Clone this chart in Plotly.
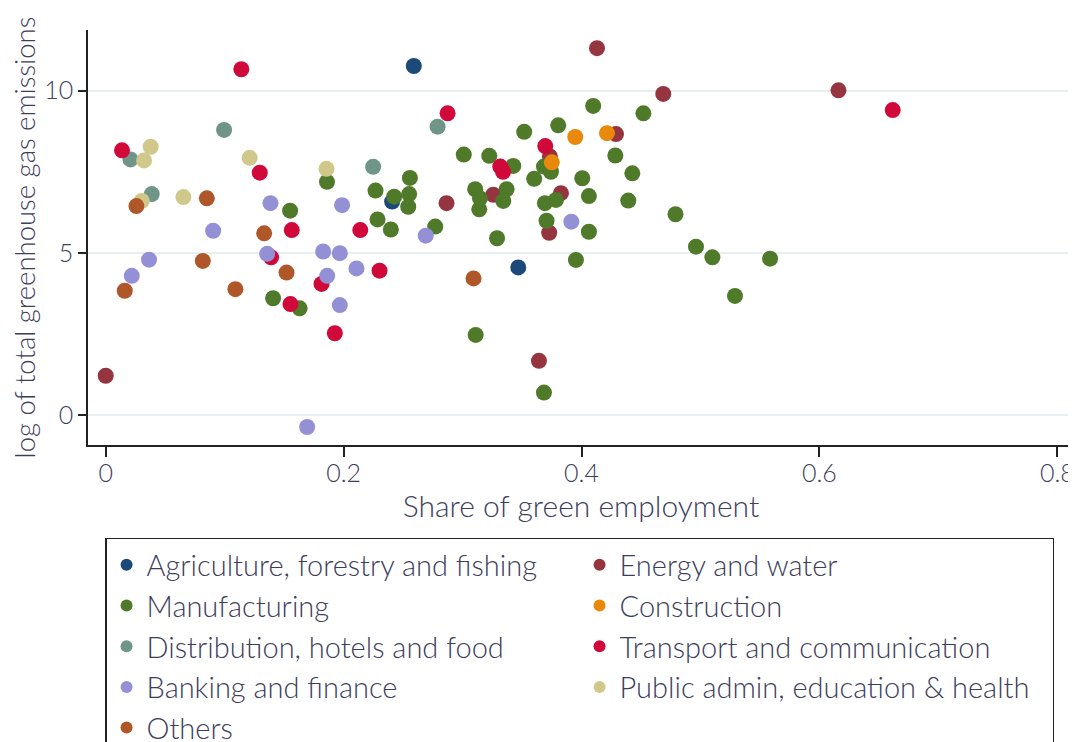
import plotly.graph_objects as go

# sectors in legend / drawing order
sectors = [
    "Agriculture, forestry and fishing",
    "Energy and water",
    "Manufacturing",
    "Construction",
    "Distribution, hotels and food",
    "Transport and communication",
    "Banking and finance",
    "Public admin, education & health",
    "Others",
]
colors = ["#1b4a78", "#943540", "#4e7a2a", "#e8890c", "#6f9488",
          "#d0093a", "#9490d6", "#d0c88a", "#b0572a"]

agri_x = [0.259, 0.2408, 0.3468]
agri_y = [10.76, 6.58, 4.55]

energy_x = [0.0, 0.413, 0.429, 0.2865, 0.3258, 0.3827, 0.3728, 0.3734, 0.4687, 0.616, 0.3642]
energy_y = [1.21, 11.31, 8.66, 6.53, 6.79, 6.84, 5.62, 7.97, 9.90, 10.01, 1.67]

manuf_x = [0.186, 0.155, 0.1407, 0.163, 0.2397, 0.4098, 0.3518, 0.3804, 0.301, 0.3224,
           0.3426, 0.2557, 0.2268, 0.2425, 0.2551, 0.2543, 0.3106, 0.3146, 0.314, 0.337,
           0.3342, 0.3602, 0.3684, 0.3743, 0.4006, 0.4284, 0.3692, 0.3785, 0.4062, 0.3706,
           0.4062, 0.329, 0.277, 0.2285, 0.452, 0.4427, 0.4393, 0.479, 0.4962, 0.51,
           0.5585, 0.529, 0.3953, 0.311, 0.3684]
manuf_y = [7.19, 6.30, 3.60, 3.29, 5.72, 9.53, 8.73, 8.93, 8.03, 7.99,
           7.68, 7.31, 6.92, 6.73, 6.81, 6.42, 6.96, 6.68, 6.34, 6.96,
           6.60, 7.28, 7.66, 7.50, 7.30, 8.00, 6.53, 6.63, 6.75, 5.99,
           5.65, 5.45, 5.81, 6.03, 9.30, 7.45, 6.61, 6.19, 5.19, 4.86,
           4.82, 3.67, 4.78, 2.47, 0.69]

constr_x = [0.3947, 0.4214, 0.375]
constr_y = [8.57, 8.69, 7.79]

distrib_x = [0.0995, 0.0208, 0.0387, 0.279, 0.2248]
distrib_y = [8.79, 7.88, 6.81, 8.89, 7.65]

transport_x = [0.114, 0.0137, 0.1295, 0.1564, 0.214, 0.139, 0.1553, 0.1814, 0.1926, 0.2302,
               0.2874, 0.3695, 0.3317, 0.334, 0.6616]
transport_y = [10.66, 8.16, 7.47, 5.70, 5.70, 4.86, 3.42, 4.04, 2.52, 4.45,
               9.30, 8.29, 7.66, 7.50, 9.40]

bank_x = [0.1385, 0.1987, 0.0903, 0.0364, 0.0219, 0.1357, 0.1828, 0.1968, 0.1862, 0.1968,
          0.1693, 0.2108, 0.269, 0.3914]
bank_y = [6.53, 6.47, 5.68, 4.79, 4.29, 4.97, 5.04, 4.99, 4.29, 3.39,
          -0.37, 4.52, 5.53, 5.96]

public_x = [0.0378, 0.0322, 0.121, 0.1856, 0.0303, 0.0653]
public_y = [8.27, 7.85, 7.93, 7.59, 6.60, 6.72]

others_x = [0.0258, 0.085, 0.1332, 0.016, 0.0816, 0.109, 0.152, 0.3092]
others_y = [6.44, 6.68, 5.60, 3.83, 4.75, 3.88, 4.39, 4.21]

xs = [agri_x, energy_x, manuf_x, constr_x, distrib_x, transport_x, bank_x, public_x, others_x]
ys = [agri_y, energy_y, manuf_y, constr_y, distrib_y, transport_y, bank_y, public_y, others_y]

TXT = "#3d3d5c"
FONT = "Lato"

fig = go.Figure()
for name, col, x, y in zip(sectors, colors, xs, ys):
    fig.add_trace(go.Scatter(x=x, y=y, mode="markers", name=name,
                             marker=dict(color=col, size=16, line=dict(width=0))))

# page body has an 8px margin, so the plot area is shifted up/left by 8px
fig.update_layout(
    width=1076, height=742,
    paper_bgcolor="white", plot_bgcolor="white",
    margin=dict(l=80, r=10, t=22, b=305, autoexpand=False),
    font=dict(family=FONT, color=TXT, size=25, weight=300),
    showlegend=True,
    legend=dict(
        orientation="h", x=0.0173, y=-0.224, xanchor="left", yanchor="top",
        entrywidth=428, entrywidthmode="pixels",
        bordercolor="#222222", borderwidth=1.5, bgcolor="white",
        font=dict(family=FONT, size=29, color=TXT, weight=300),
        itemsizing="constant",
    ),
)
fig.update_xaxes(
    range=[-0.0149, 0.814], tickvals=[0, 0.2, 0.4, 0.6, 0.8],
    ticktext=["0", "0.2", "0.4", "0.6", "0.8"],
    showline=True, linecolor="#222222", linewidth=1.5,
    ticks="outside", ticklen=10, tickwidth=1.5, tickcolor="#222222",
    ticklabelstandoff=-5,
    showgrid=False, zeroline=False,
    title=dict(text="Share of green employment", standoff=2,
               font=dict(family=FONT, size=30, color=TXT, weight=300)),
    tickfont=dict(family=FONT, size=25, color=TXT, weight=300),
)
fig.update_yaxes(
    range=[-0.925, 11.87], tickvals=[0, 5, 10],
    showline=True, linecolor="#222222", linewidth=1.5,
    ticks="outside", ticklen=8, tickwidth=1.5, tickcolor="#222222",
    showgrid=True, gridcolor="#e6f0f2", gridwidth=2, zeroline=False,
    title=dict(text="log of total greenhouse gas emissions", standoff=10,
               font=dict(family=FONT, size=27.5, color=TXT, weight=300)),
    tickfont=dict(family=FONT, size=25, color=TXT, weight=300),
)

fig.write_html("out.html")
